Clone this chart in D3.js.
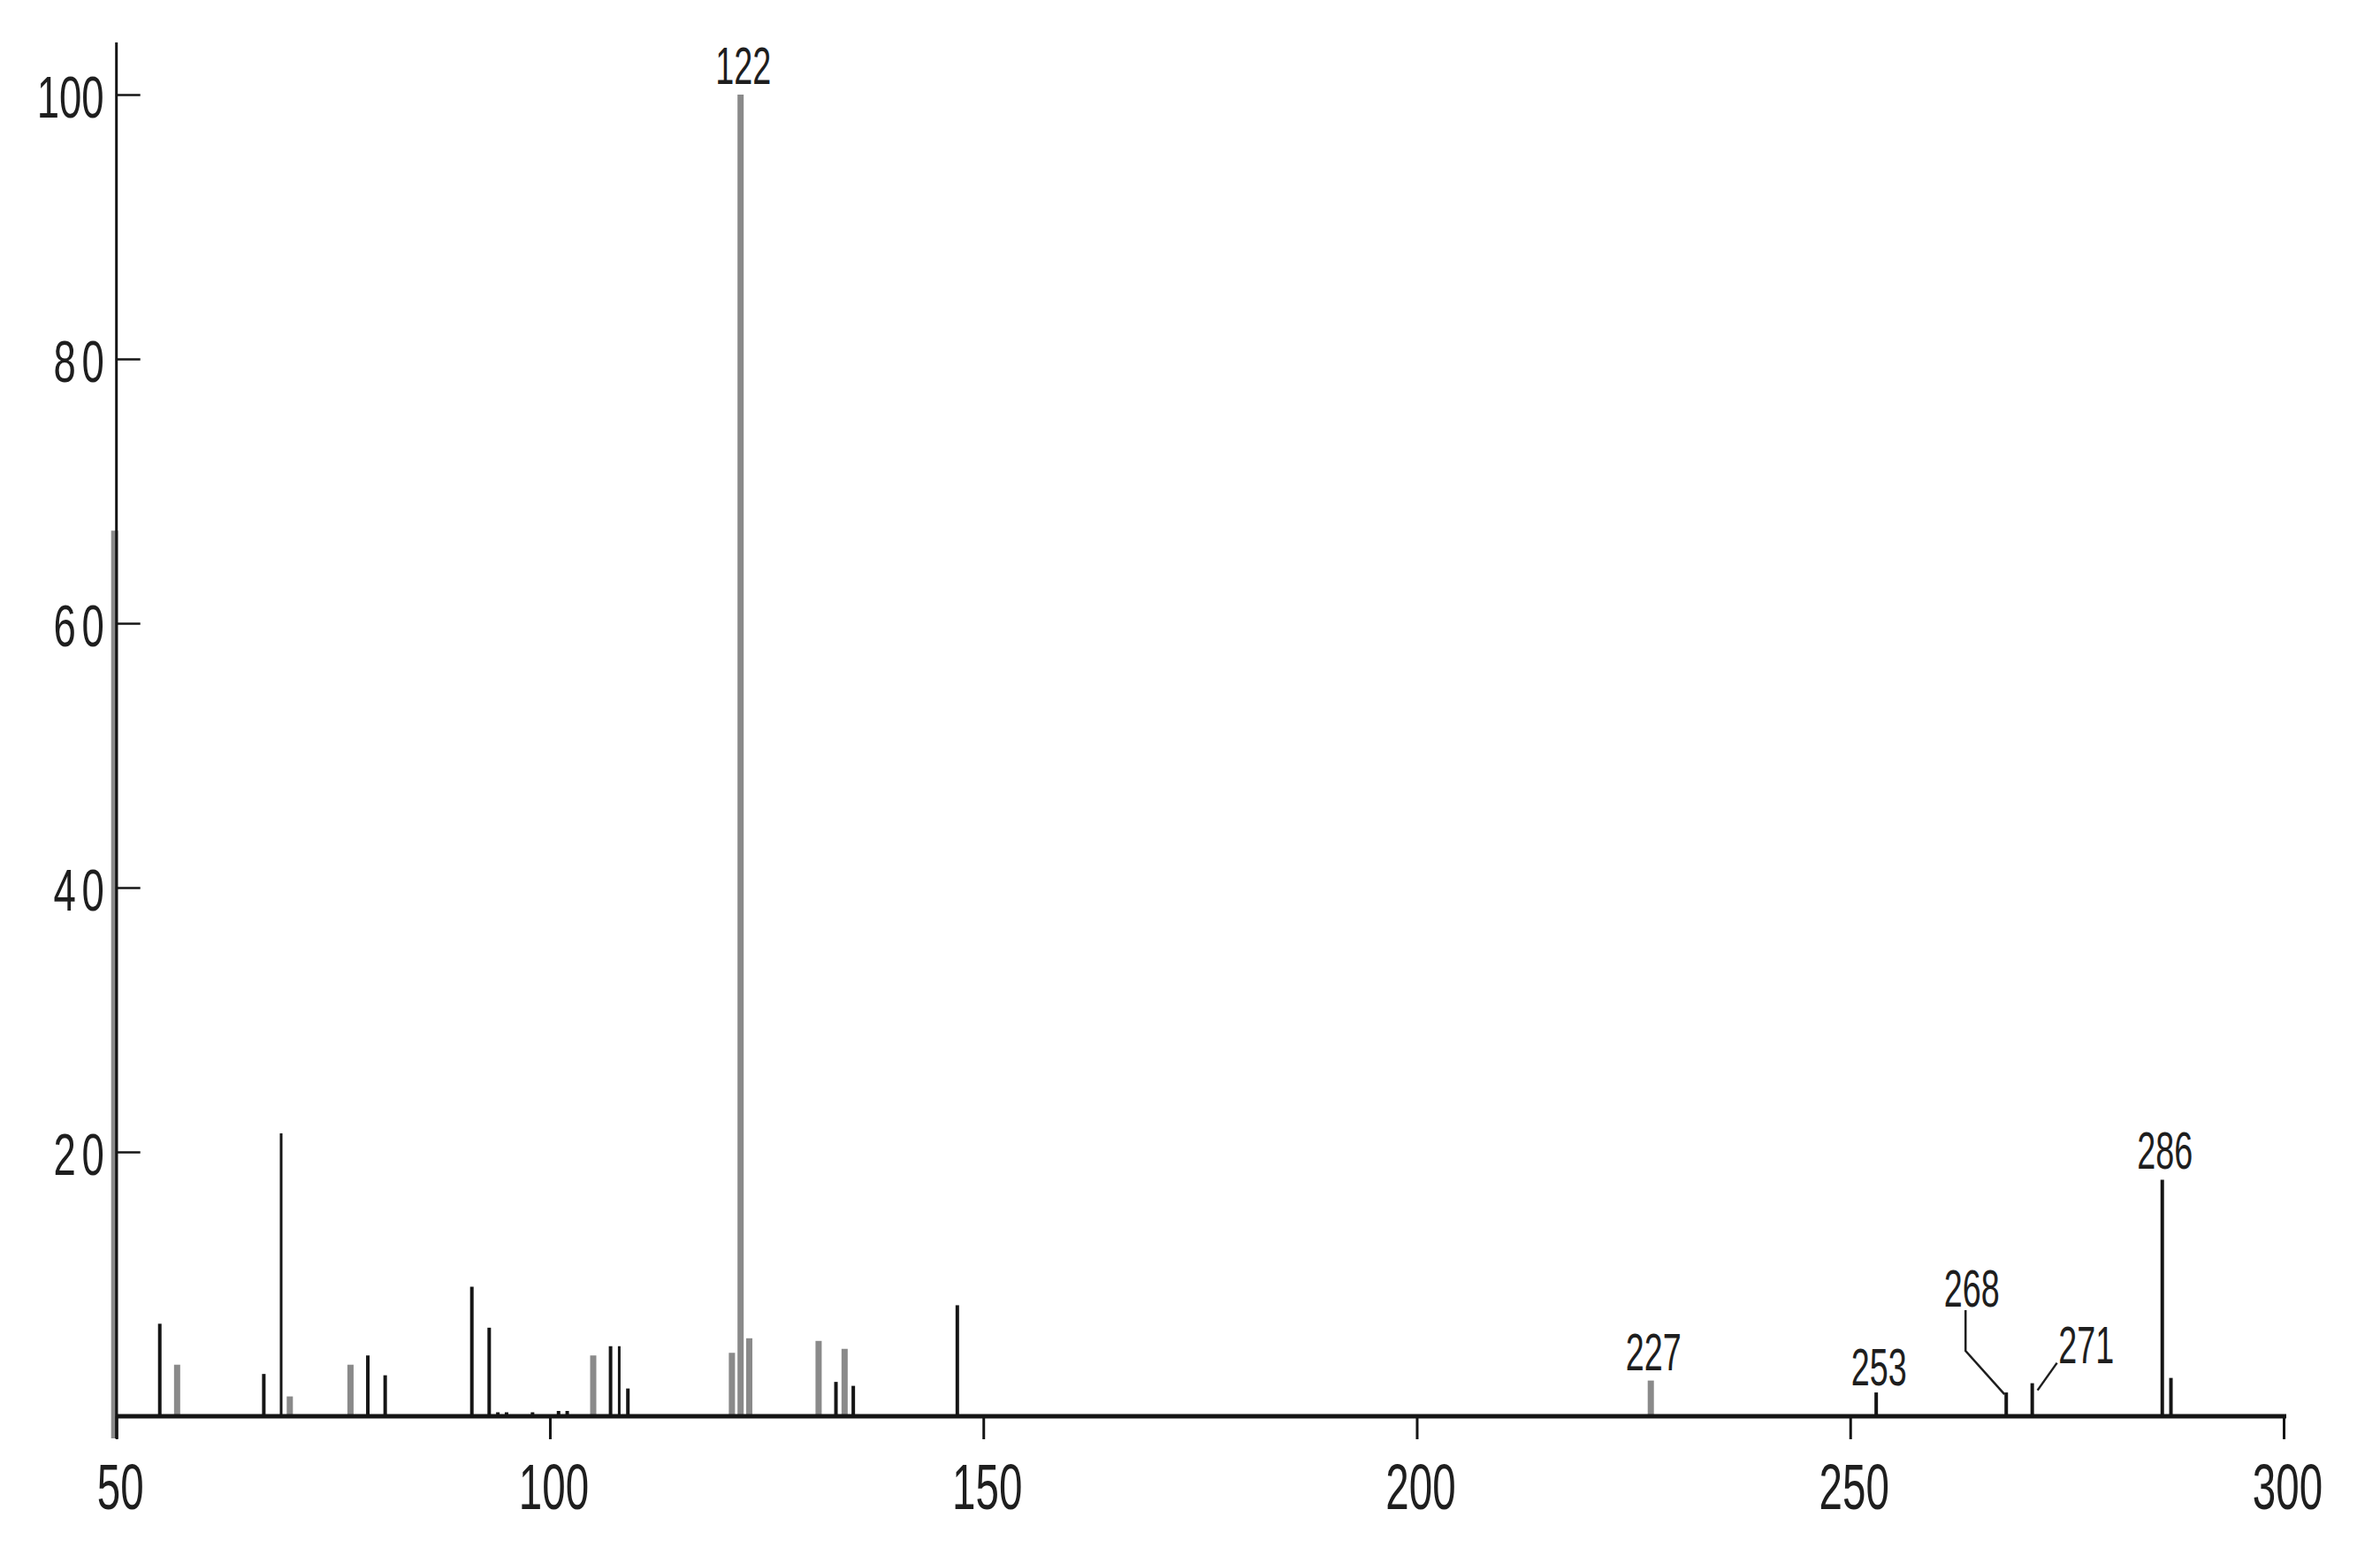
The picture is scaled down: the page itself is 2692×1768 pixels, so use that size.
<!DOCTYPE html>
<html>
<head>
<meta charset="utf-8">
<script src="https://cdn.jsdelivr.net/npm/d3@7"></script>
<style>
  html, body { margin: 0; padding: 0; background: #fff; }
  svg { display: block; }
  text { font-family: "Liberation Sans", Arial, sans-serif; fill: #1e1e1e; }
</style>
</head>
<body>
<svg id="chart" width="2692" height="1768"></svg>
<script>
// ---- data (m/z vs relative intensity, %) ----
const mz = [50, 55, 57, 67, 69, 70, 77, 79, 81, 91, 93, 94, 95, 98, 101, 102,
            105, 107, 108, 109, 121, 122, 123, 131, 133, 134, 135, 147,
            227, 253, 268, 271, 286, 287];
const intensity = [67, 7.0, 3.9, 3.2, 21.4, 1.5, 3.9, 4.6, 3.1, 9.8, 6.7, 0.3, 0.3, 0.3, 0.4, 0.4,
                   4.6, 5.3, 5.3, 2.1, 4.8, 100, 5.9, 5.7, 2.6, 5.1, 2.3, 8.4,
                   2.7, 1.8, 1.8, 2.5, 17.9, 2.9];
const labelledPeaks = [122, 227, 253, 268, 271, 286];
const xTickValues = [50, 100, 150, 200, 250, 300];
const yTickValues = [20, 40, 60, 80, 100];

// ---- styling groups (not data) ----
const grayPeaks = new Set([50, 57, 70, 77, 105, 121, 122, 123, 131, 134, 227]);
const thinPeaks = new Set([69, 108]);

const svg = d3.select("#chart");
svg.append("rect").attr("width", 2692).attr("height", 1768).attr("fill", "#fff");

const x = d3.scaleLinear().domain([50, 300]).range([131.7, 2583]);
const y = d3.scaleLinear().domain([0, 100]).range([1602, 107]);

const peaks = mz.map((m, i) => ({ m, v: intensity[i] }));

// peaks
svg.append("g").selectAll("line").data(peaks).join("line")
  .attr("x1", d => x(d.m) - (d.m === 50 ? 2 : 0)).attr("x2", d => x(d.m) - (d.m === 50 ? 2 : 0))
  .attr("y1", d => d.m === 50 ? y(0) + 25 : y(0)).attr("y2", d => y(d.v))
  .attr("stroke", d => grayPeaks.has(d.m) ? "#8a8a8a" : "#151515")
  .attr("stroke-width", d => grayPeaks.has(d.m) ? (d.m === 50 ? 8 : 7) : (thinPeaks.has(d.m) ? 3 : 4))
  .attr("stroke-linecap", "butt");

// x axis
const xAxis = d3.axisBottom(x).tickValues(xTickValues).tickSize(26).tickPadding(0).tickFormat(d3.format("d"));
const gx = svg.append("g").attr("transform", `translate(0,${y(0)})`).call(xAxis);
gx.select(".domain").remove();
gx.selectAll(".tick line").attr("stroke", "#151515").attr("stroke-width", 3);
gx.selectAll(".tick text")
  .attr("y", 0).attr("dy", null)
  .attr("font-size", 72)
  .attr("fill", "#1e1e1e")
  .attr("transform", "translate(4,105) scale(0.66,1)");
svg.append("line")
  .attr("x1", x(50)).attr("x2", x(300) + 3)
  .attr("y1", y(0)).attr("y2", y(0))
  .attr("stroke", "#151515").attr("stroke-width", 5);

// y axis (ticks pointing inward)
const yAxis = d3.axisLeft(y).tickValues(yTickValues).tickSize(-27).tickPadding(0).tickFormat(d3.format("d"));
const gy = svg.append("g").attr("transform", `translate(${x(50)},0)`).call(yAxis);
gy.select(".domain").remove();
gy.selectAll(".tick line").attr("stroke", "#151515").attr("stroke-width", 2.5);
gy.selectAll(".tick text")
  .attr("x", 0).attr("dy", null).attr("y", 0)
  .attr("text-anchor", "end")
  .attr("font-size", 67)
  .attr("fill", "#1e1e1e")
  .attr("letter-spacing", d => d < 100 ? 10 : 0)
  .attr("transform", d => d < 100 ? "translate(-7,25) scale(0.68,1)" : "translate(-14,25) scale(0.68,1)");
svg.append("line")
  .attr("x1", x(50)).attr("x2", x(50))
  .attr("y1", y(100) - 59).attr("y2", y(0) + 25)
  .attr("stroke", "#151515").attr("stroke-width", 3);

// peak labels
const labGroup = svg.append("g");
const labelled = peaks.filter(d => labelledPeaks.includes(d.m));
labelled.forEach(d => {
  const px = x(d.m), pt = y(d.v);
  let lx = px + 3, ly = pt - 12;
  if (d.m === 253) ly = pt - 8;
  if (d.m === 268) {
    lx = px - 39; ly = pt - 97;
    labGroup.append("path")
      .attr("d", `M${px - 46},${pt - 93} V${pt - 47} L${px - 2},${pt + 2}`)
      .attr("fill", "none").attr("stroke", "#1e1e1e").attr("stroke-width", 2.5);
  }
  if (d.m === 271) {
    lx = px + 61; ly = pt - 23;
    labGroup.append("path")
      .attr("d", `M${px + 28},${pt - 23} L${px + 6},${pt + 8}`)
      .attr("fill", "none").attr("stroke", "#1e1e1e").attr("stroke-width", 2.5);
  }
  labGroup.append("text")
    .attr("text-anchor", "middle")
    .attr("font-size", 59)
    .attr("transform", `translate(${lx},${ly}) scale(0.64,1)`)
    .text(d.m);
});
</script>
</body>
</html>
